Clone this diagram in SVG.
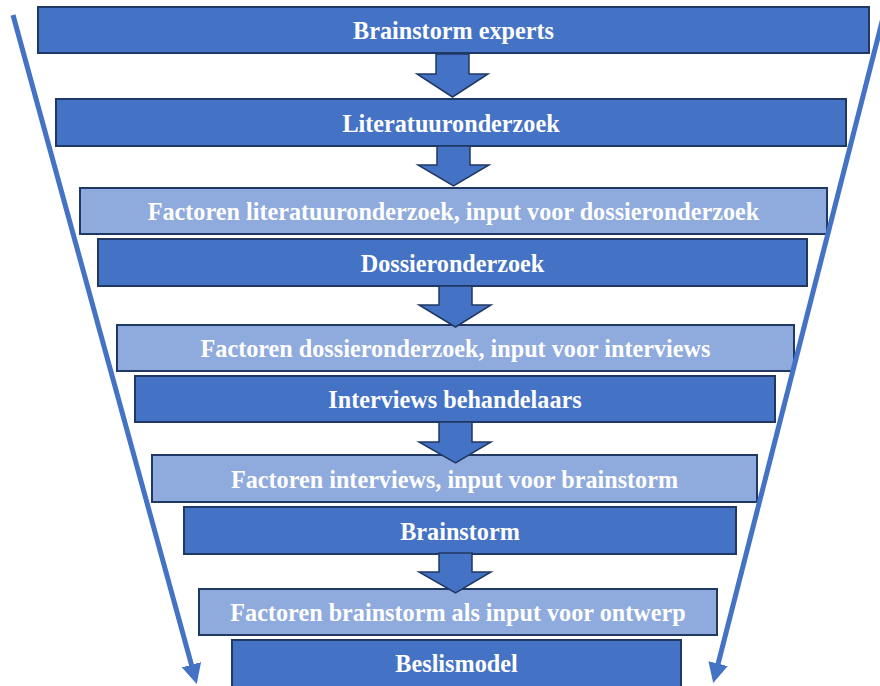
<svg xmlns="http://www.w3.org/2000/svg" width="880" height="686" viewBox="0 0 880 686">
  <defs>
    <style>
      .dark { fill: #4472C4; stroke: #1F3864; stroke-width: 2; }
      .light { fill: #8FAADC; stroke: #1F3864; stroke-width: 2; }
      .lbl { font-family: "Liberation Serif", "Times New Roman", serif; font-weight: bold; font-size: 24.2px; fill: #FFFFFF; text-anchor: middle; }
      .block { fill: #4472C4; stroke: #1F3864; stroke-width: 1.5; stroke-linejoin: miter; }
      .funnel { stroke: #4472C4; stroke-width: 5; fill: none; }
    </style>
    <marker id="head" viewBox="0 0 20 20" markerWidth="20" markerHeight="20" markerUnits="userSpaceOnUse" refX="1" refY="10" orient="auto">
      <path d="M0,0 L20,10 L0,20 z" fill="#4472C4"/>
    </marker>
  </defs>
  <rect width="880" height="686" fill="#FFFFFF"/>

  <g id="node-brainstorm-experts">
    <rect class="dark" x="38" y="7" width="831" height="46"/>
    <text class="lbl" x="453.5" y="39">Brainstorm experts</text>
  </g>
  <g id="node-literatuuronderzoek">
    <rect class="dark" x="56" y="99" width="790" height="47"/>
    <text class="lbl" x="451" y="131.5">Literatuuronderzoek</text>
  </g>
  <g id="node-factoren-literatuur">
    <rect class="light" x="80" y="188" width="747" height="46"/>
    <text class="lbl" x="453.5" y="220">Factoren literatuuronderzoek, input voor dossieronderzoek</text>
  </g>
  <g id="node-dossieronderzoek">
    <rect class="dark" x="98" y="239" width="709" height="47"/>
    <text class="lbl" x="452.5" y="271.5">Dossieronderzoek</text>
  </g>
  <g id="node-factoren-dossier">
    <rect class="light" x="117" y="325" width="677" height="46"/>
    <text class="lbl" x="455.5" y="357">Factoren dossieronderzoek, input voor interviews</text>
  </g>
  <g id="node-interviews">
    <rect class="dark" x="135" y="376" width="640" height="46"/>
    <text class="lbl" x="455" y="408">Interviews behandelaars</text>
  </g>
  <g id="node-factoren-interviews">
    <rect class="light" x="152" y="455" width="605" height="47"/>
    <text class="lbl" x="454.5" y="487.5">Factoren interviews, input voor brainstorm</text>
  </g>
  <g id="node-brainstorm">
    <rect class="dark" x="184" y="507" width="552" height="47"/>
    <text class="lbl" x="460" y="539.5">Brainstorm</text>
  </g>
  <g id="node-factoren-brainstorm">
    <rect class="light" x="199" y="589" width="518" height="46"/>
    <text class="lbl" x="458" y="621">Factoren brainstorm als input voor ontwerp</text>
  </g>
  <g id="node-beslismodel">
    <rect class="dark" x="232" y="640" width="449" height="52"/>
    <text class="lbl" x="456.5" y="672">Beslismodel</text>
  </g>

  <g id="connectors">
    <polygon class="block" points="436,54 469,54 469,74 488,74 452.5,97 417,74 436,74"/>
    <polygon class="block" points="437,146 470,146 470,165 489,165 453.5,186 418,165 437,165"/>
    <polygon class="block" points="439,286 472,286 472,305 491,305 455.5,327 419,305 439,305"/>
    <polygon class="block" points="439,422 472,422 472,442 491,442 455.5,463 419,442 439,442"/>
    <polygon class="block" points="439,553 472,553 472,572 491,572 455.5,593 419,572 439,572"/>
    <line class="funnel" x1="13" y1="15" x2="191.7" y2="665.7" marker-end="url(#head)"/>
    <line class="funnel" x1="884" y1="14" x2="717.9" y2="664.6" marker-end="url(#head)"/>
  </g>
</svg>
